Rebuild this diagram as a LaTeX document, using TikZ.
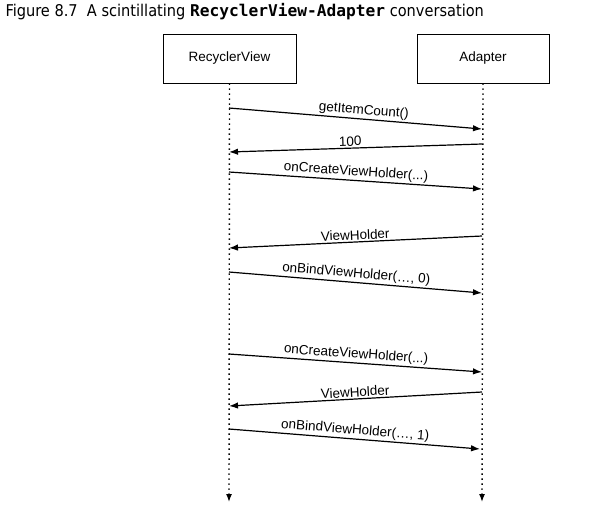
\documentclass[tikz,border=0pt]{standalone}
\usepackage{fontspec}
\setmainfont{Liberation Sans}
\newfontfamily\titlefont{DejaVu Sans Condensed}
\newfontfamily\codefont{DejaVu Sans Mono}
\usetikzlibrary{arrows.meta}

\tikzset{
	actor/.style={draw, line width=0.8, minimum width=133, minimum height=49, inner sep=0, font=\fontsize{13.5}{15}\selectfont},
	msg/.style={arrows={-{Latex[length=9,width=6.5]}}, line width=1.2},
	lifeline/.style={line width=1.4, dash pattern=on 1.4 off 3.6, arrows={-{Latex[length=8,width=6]}}},
	lbl/.style={midway, above, sloped, inner sep=1.5, font=\fontsize{13.5}{15}\selectfont}
}

\begin{document}
\begin{tikzpicture}[x=1pt,y=-1pt]
	\useasboundingbox (0,0) rectangle (596,504);
	\node [anchor=base west, font=\titlefont\fontsize{16.2}{18}\selectfont] (title) at (2,16.5) {Figure 8.7\ \ A scintillating {\codefont\bfseries RecyclerView-Adapter} conversation};
	\node [actor] (rv) at (229.5,58.5) {RecyclerView};
	\node [actor, minimum width=132] (ad) at (483,58.5) {Adapter};
	\coordinate (rvend) at (229,502);
	\coordinate (adend) at (482,502);
	\draw [lifeline] (rv.south) -- (rvend);
	\draw [lifeline] (ad.south) -- (adend);
	% first item
	\coordinate (rv1) at (229,108); \coordinate (ad1) at (482,129);
	\draw [msg] (rv1) -- (ad1) node [lbl, pos=0.53] {getItemCount()};
	\coordinate (ad2) at (482,144); \coordinate (rv2) at (229,152);
	\draw [msg] (ad2) -- (rv2) node [lbl, pos=0.52] {100};
	\coordinate (rv3) at (229,172); \coordinate (ad3) at (482,189);
	\draw [msg] (rv3) -- (ad3) node [lbl] {onCreateViewHolder(...)};
	\coordinate (ad4) at (482,236); \coordinate (rv4) at (229,248);
	\draw [msg] (ad4) -- (rv4) node [lbl] {ViewHolder};
	\coordinate (rv5) at (229,272); \coordinate (ad5) at (482,293);
	\draw [msg] (rv5) -- (ad5) node [lbl] {onBindViewHolder(…, 0)};
	% second item
	\coordinate (rv6) at (229,354); \coordinate (ad6) at (482,372);
	\draw [msg] (rv6) -- (ad6) node [lbl] {onCreateViewHolder(...)};
	\coordinate (ad7) at (482,392); \coordinate (rv7) at (229,406);
	\draw [msg] (ad7) -- (rv7) node [lbl] {ViewHolder};
	\coordinate (rv8) at (229,429); \coordinate (ad8) at (480,449);
	\draw [msg] (rv8) -- (ad8) node [lbl] {onBindViewHolder(…, 1)};
\end{tikzpicture}
\end{document}
